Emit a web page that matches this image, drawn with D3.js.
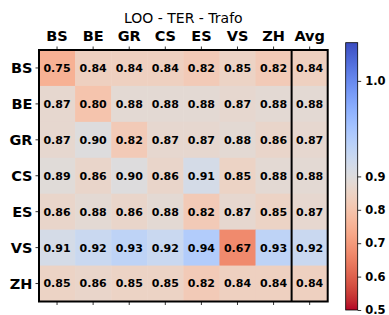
<!DOCTYPE html>
<meta charset="utf-8" />
<script src="https://d3js.org/d3.v7.min.js"></script>
<style>
  body { margin: 0; background: #fff; }
  svg, svg text { font-family: "DejaVu Sans", sans-serif; }
</style>
<div id="chart"></div>
<script>
  // rows / columns of the matrix
  const rows = ["BS", "BE", "GR", "CS", "ES", "VS", "ZH"];
  const cols = ["BS", "BE", "GR", "CS", "ES", "VS", "ZH", "Avg"];

  // one array per row (last value is the row average)
  const rowBS = [0.75, 0.84, 0.84, 0.84, 0.82, 0.85, 0.82, 0.84];
  const rowBE = [0.87, 0.80, 0.88, 0.88, 0.88, 0.87, 0.88, 0.88];
  const rowGR = [0.87, 0.90, 0.82, 0.87, 0.87, 0.88, 0.86, 0.87];
  const rowCS = [0.89, 0.86, 0.90, 0.86, 0.91, 0.85, 0.88, 0.88];
  const rowES = [0.86, 0.88, 0.86, 0.88, 0.82, 0.87, 0.85, 0.87];
  const rowVS = [0.91, 0.92, 0.93, 0.92, 0.94, 0.67, 0.93, 0.92];
  const rowZH = [0.85, 0.86, 0.85, 0.85, 0.82, 0.84, 0.84, 0.84];
  const values = [rowBS, rowBE, rowGR, rowCS, rowES, rowVS, rowZH];

  const cbarTicks = [0.5, 0.6, 0.7, 0.8, 0.9, 1.0];
  const vmin = 0.5, vcenter = 0.9, vmax = 1.04;

  // matplotlib coolwarm, sampled
  const coolwarm = ["#3b4cc0", "#445acc", "#4d68d7", "#5775e1", "#6282ea", "#6c8ef1",
    "#779af7", "#82a5fb", "#8db0fe", "#98b9ff", "#a3c2ff", "#aec9fd", "#b8d0f9",
    "#c2d5f4", "#ccd9ee", "#d5dbe6", "#dddddd", "#e5d8d1", "#ecd3c5", "#f1ccb9",
    "#f5c4ad", "#f7bba0", "#f7b194", "#f7a687", "#f49a7b", "#f18d6f", "#ec7f63",
    "#e57058", "#de604d", "#d55042", "#cb3e38", "#c0282f", "#b40426"];
  const cmap = d3.interpolateRgbBasis(coolwarm);
  // TwoSlopeNorm -> [0,1]
  const norm = d3.scaleLinear().domain([vmin, vcenter, vmax]).range([0, 0.5, 1]).clamp(true);
  const color = v => cmap(1 - norm(v)); // coolwarm_r

  const W = 389, H = 315;
  const svg = d3.select("#chart").append("svg").attr("width", W).attr("height", H);

  const x = d3.scaleBand().domain(cols).range([39, 327.7]);
  const y = d3.scaleBand().domain(rows).range([50, 301.5]);

  const cells = [];
  rows.forEach((r, i) => cols.forEach((c, j) => cells.push({ r, c, v: values[i][j] })));

  svg.append("g").selectAll("rect").data(cells).join("rect")
    .attr("x", d => x(d.c)).attr("y", d => y(d.r))
    .attr("width", x.bandwidth() + 0.5).attr("height", y.bandwidth() + 0.5)
    .attr("fill", d => color(d.v));

  svg.append("g").selectAll("text").data(cells).join("text")
    .attr("x", d => x(d.c) + x.bandwidth() / 2)
    .attr("y", d => y(d.r) + y.bandwidth() / 2)
    .attr("dy", "0.36em")
    .attr("text-anchor", "middle")
    .style("font-size", "11px").style("font-weight", "bold")
    .text(d => d.v.toFixed(2));

  // axes
  const topAxis = svg.append("g").attr("transform", "translate(0,50)")
    .call(d3.axisTop(x).tickSize(3.5).tickPadding(6));
  svg.append("g").attr("transform", "translate(0,301.5)")
    .call(d3.axisBottom(x).tickSize(3.5).tickFormat(""));
  const leftAxis = svg.append("g").attr("transform", "translate(39,0)")
    .call(d3.axisLeft(y).tickSize(3.5).tickPadding(3));
  leftAxis.selectAll("text").attr("dy", "0.36em");
  [topAxis, leftAxis].forEach(a => a.attr("font-family", null).attr("font-size", null)
    .selectAll("text").style("font-size", "14.5px").style("font-weight", "bold").attr("fill", "#000"));
  svg.selectAll(".domain").remove();
  svg.selectAll(".tick line").attr("stroke", "#000").attr("stroke-width", 0.8);

  // frame and separator before Avg
  svg.append("rect").attr("x", 39).attr("y", 50)
    .attr("width", 327.7 - 39).attr("height", 301.5 - 50)
    .attr("fill", "none").attr("stroke", "#000").attr("stroke-width", 2);
  svg.append("line").attr("x1", x("Avg")).attr("x2", x("Avg"))
    .attr("y1", 50).attr("y2", 301.5).attr("stroke", "#000").attr("stroke-width", 2);

  // title
  svg.append("text").attr("x", (39 + 327.7) / 2).attr("y", 22.5)
    .attr("text-anchor", "middle").style("font-size", "14px").text("LOO - TER - Trafo");

  // colorbar
  const cb = d3.scaleLinear().domain([vmin, vcenter, vmax]).range([310, 176.4, 42.7]);
  const defs = svg.append("defs");
  const grad = defs.append("linearGradient").attr("id", "cbar")
    .attr("x1", 0).attr("x2", 0).attr("y1", 1).attr("y2", 0);
  d3.range(0, 1.0001, 1 / 32).forEach(t => {
    grad.append("stop").attr("offset", t).attr("stop-color", cmap(1 - t));
  });
  svg.append("rect").attr("x", 345.7).attr("y", 42.7).attr("width", 12)
    .attr("height", 310 - 42.7).attr("fill", "url(#cbar)")
    .attr("stroke", "#000").attr("stroke-width", 0.8);
  const cbAxis = svg.append("g").attr("transform", "translate(357.7,0)")
    .call(d3.axisRight(cb).tickValues(cbarTicks).tickSize(3.5).tickPadding(4).tickFormat(d3.format(".1f")));
  cbAxis.attr("font-family", null).attr("font-size", null);
  cbAxis.select(".domain").remove();
  cbAxis.selectAll(".tick line").attr("stroke", "#000").attr("stroke-width", 0.8);
  cbAxis.selectAll("text").style("font-size", "11.5px").style("font-weight", "bold").attr("fill", "#000");
</script>
